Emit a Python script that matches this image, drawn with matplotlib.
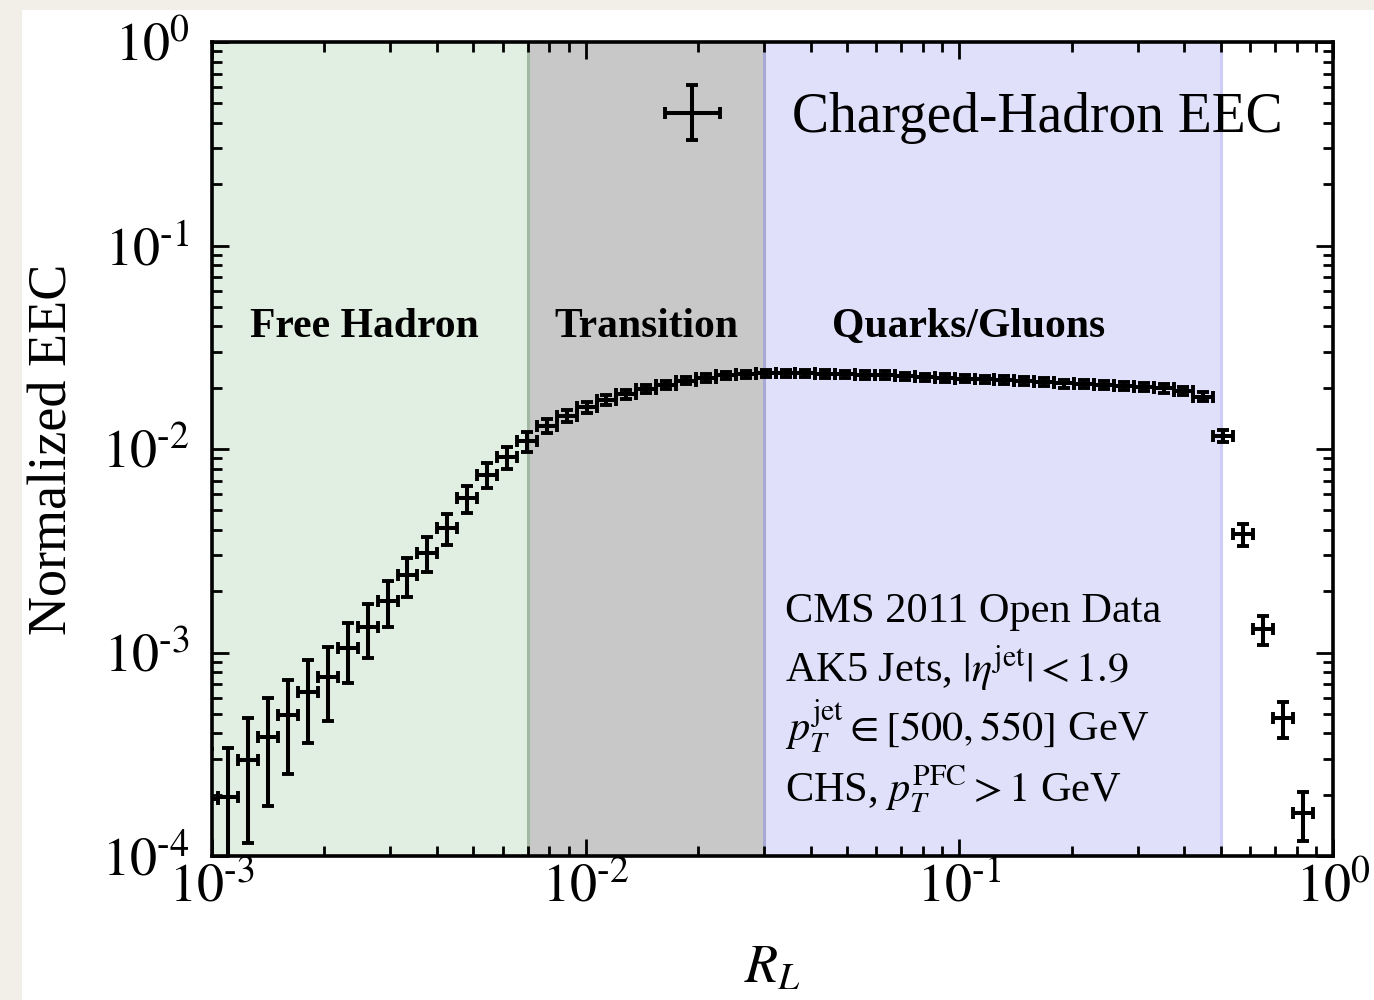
import numpy as np
import matplotlib
matplotlib.use("Agg")
import matplotlib.pyplot as plt
from matplotlib.patches import Rectangle
from matplotlib.ticker import FuncFormatter, LogLocator, NullFormatter

plt.rcParams["font.family"] = ["Liberation Serif", "DejaVu Serif"]
plt.rcParams["mathtext.fontset"] = "stix"

# Histogram binning in R_L (log-spaced bins, first one starts just below 1e-3)
rl_edges = np.logspace(-3.036, -0.054, 57)
rl = np.sqrt(rl_edges[:-1] * rl_edges[1:])
rl_lo = rl - rl_edges[:-1]
rl_hi = rl_edges[1:] - rl

# Normalized EEC per bin and its uncertainty
eec = [1.9e-4, 1.95e-4, 2.96e-4, 3.86e-4, 4.93e-4, 6.4e-4, 7.6e-4, 1.05e-3,
       1.34e-3, 1.79e-3, 2.40e-3, 3.09e-3, 4.07e-3, 5.73e-3, 7.45e-3, 9.1e-3,
       1.09e-2, 1.30e-2, 1.45e-2, 1.61e-2, 1.75e-2, 1.86e-2, 1.97e-2, 2.06e-2,
       2.17e-2, 2.24e-2, 2.30e-2, 2.33e-2, 2.35e-2, 2.35e-2, 2.35e-2, 2.34e-2,
       2.33e-2, 2.31e-2, 2.31e-2, 2.28e-2, 2.25e-2, 2.24e-2, 2.22e-2, 2.20e-2,
       2.18e-2, 2.16e-2, 2.13e-2, 2.10e-2, 2.09e-2, 2.06e-2, 2.04e-2, 2.02e-2,
       1.99e-2, 1.93e-2, 1.81e-2, 1.16e-2, 3.81e-3, 1.30e-3, 4.75e-4, 1.62e-4]
eec_err = [1.45e-4, 1.45e-4, 1.8e-4, 2.1e-4, 2.4e-4, 2.8e-4, 3.0e-4, 3.4e-4,
           4.0e-4, 4.6e-4, 5.2e-4, 6.1e-4, 7.1e-4, 8.8e-4, 1.05e-3, 1.1e-3,
           1.2e-3, 1.0e-3, 1.0e-3, 1.0e-3, 1.0e-3, 1.0e-3, 9.5e-4, 9.5e-4,
           9.5e-4, 9.5e-4, 9.5e-4, 9.5e-4, 9.5e-4, 9.5e-4, 9.5e-4, 9.5e-4,
           9.5e-4, 9.5e-4, 9.5e-4, 9.5e-4, 9.5e-4, 9.5e-4, 9.5e-4, 9.5e-4,
           9.5e-4, 9.5e-4, 9.5e-4, 9.5e-4, 9.5e-4, 9.5e-4, 9.5e-4, 9.5e-4,
           9.5e-4, 9.5e-4, 9.0e-4, 8.0e-4, 4.8e-4, 2.1e-4, 9.5e-5, 4.4e-5]

# Regions of R_L: name, lower edge, upper edge, fill, edge line
regions = [("Free Hadron", 1e-3, 7e-3, "#e0efe1", "#a3b8a3"),
           ("Transition", 7e-3, 3e-2, "#c8c8c8", "#a9a9d6"),
           ("Quarks/Gluons", 3e-2, 0.5, "#e0e0fa", "#cdcdf6")]
region_label_x = [2.55e-3, 1.45e-2, 0.106]

info_lines = ["CMS 2011 Open Data",
              r"AK5 Jets, $|\eta^{\rm jet}| < 1.9$",
              r"$p_T^{\rm jet} \in [500, 550]$ GeV",
              r"CHS, $p_T^{\rm PFC} > 1$ GeV"]

fig = plt.figure(figsize=(13.74, 10), dpi=100, facecolor="#f2efe9")
fig.patches.append(Rectangle((22 / 1374, 0), 1, 1 - 10 / 1000, transform=fig.transFigure,
                             facecolor="white", edgecolor="none", zorder=-10))
ax = fig.add_axes([212 / 1374, 144 / 1000, 1121 / 1374, 814 / 1000])
ax.set_facecolor("white")

for (name, lo, hi, fc, ec), lx in zip(regions, region_label_x):
    ax.axvspan(lo, hi, facecolor=fc, edgecolor="none", zorder=0)
    ax.axvline(hi, color=ec, lw=2.2, zorder=0.5)
    ax.text(lx, 0.6376, name, transform=ax.get_xaxis_transform(), ha="center",
            va="baseline", fontsize=30, fontweight="bold")

ax.errorbar(rl, eec, xerr=[rl_lo, rl_hi], yerr=eec_err, fmt="none", ecolor="black",
            elinewidth=2.9, capsize=4.3, capthick=2.8, label="Charged-Hadron EEC", zorder=3)

# information block, one line every 60 px
for i, line in enumerate(info_lines):
    ax.text((785 - 212) / 1121, (856 - 621.7 - 60 * i) / 814, line,
            transform=ax.transAxes, fontsize=30.5, va="baseline", ha="left")

ax.set_xscale("log")
ax.set_yscale("log")
ax.set_xlim(1e-3, 1)
ax.set_ylim(1e-4, 1)


def sci_label(v, pos):
    e = int(round(np.log10(v)))
    s = str(e).replace("-", "\u2010")
    return r"$10^{%s}$" % s


for axis in (ax.xaxis, ax.yaxis):
    axis.set_major_locator(LogLocator(base=10, numticks=10))
    axis.set_minor_locator(LogLocator(base=10, subs=np.arange(2, 10), numticks=20))
    axis.set_major_formatter(FuncFormatter(sci_label))
    axis.set_minor_formatter(NullFormatter())

ax.tick_params(which="both", direction="in", top=True, right=True, width=2)
ax.tick_params(which="major", length=12, labelsize=39)
ax.tick_params(which="minor", length=7)
ax.tick_params(axis="x", which="major", pad=5)
ax.tick_params(axis="y", which="major", pad=16)
for sp in ax.spines.values():
    sp.set_linewidth(2.6)
    sp.set_zorder(4)

ax.set_xlabel(r"$R_L$", fontsize=39, va="top")
ax.xaxis.set_label_coords(0.5, -0.109)
ax.set_ylabel("Normalized EEC", fontsize=39)
ax.yaxis.set_label_coords(-0.1195, 0.5)

ax.legend(loc="upper right", frameon=False, fontsize=40)

fig.savefig("out.png", dpi=100, facecolor=fig.get_facecolor())
